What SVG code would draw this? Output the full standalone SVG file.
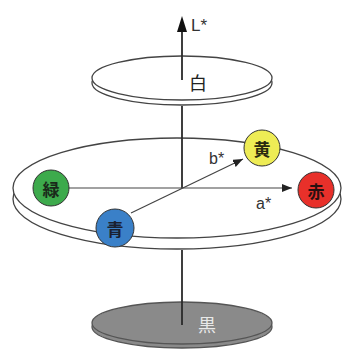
<svg xmlns="http://www.w3.org/2000/svg" width="342" height="351" viewBox="0 0 342 351">
  <defs>
    <marker id="ah" viewBox="0 0 10 8" refX="10" refY="4" markerWidth="10" markerHeight="8" markerUnits="userSpaceOnUse" orient="auto">
      <path d="M0,0 L10,4 L0,8 Z" fill="#222"/>
    </marker>
  </defs>
  <style>
    .disk { fill: #ffffff; stroke: #444; stroke-width: 1.3; }
    .dark { fill: #8a8a8a; stroke: #555; stroke-width: 1.3; }
    .ax { stroke: #2a2a2a; stroke-width: 1.8; fill: none; }
    .ln { stroke: #444; stroke-width: 1.2; fill: none; }
    .dot { stroke: #333; stroke-width: 1; }
    .cjk { font-family: "Noto Sans CJK JP", "Noto Sans CJK SC", sans-serif; text-anchor: middle; dominant-baseline: central; }
    .in { font-size: 17px; font-weight: bold; }
    .lbl { font-family: "Liberation Sans", Arial, sans-serif; fill: #333; }
  </style>
  <rect width="342" height="351" fill="#ffffff"/>

  <g id="black-disk">
    <ellipse class="dark" cx="182" cy="327" rx="90" ry="21"/>
    <ellipse class="dark" cx="182" cy="323" rx="90" ry="21"/>
  </g>

  <g id="middle-disk">
    <ellipse class="disk" cx="177" cy="199" rx="164" ry="50"/>
    <ellipse class="disk" cx="177" cy="188" rx="164" ry="50"/>
  </g>

  <g id="white-disk">
    <ellipse class="disk" cx="182" cy="83" rx="90" ry="22"/>
    <ellipse class="disk" cx="182" cy="78" rx="90" ry="22"/>
  </g>

  <g id="connectors">
    <line class="ax" x1="182" y1="250" x2="182" y2="325"/>
    <line class="ax" x1="182" y1="106" x2="182" y2="188"/>
    <line class="ax" x1="182" y1="80" x2="182" y2="28"/>
    <path d="M182,16 L187,32 L177,32 Z" fill="#111"/>
    <line class="ln" x1="68" y1="188" x2="292" y2="188" marker-end="url(#ah)"/>
    <line class="ln" x1="131" y1="213" x2="243" y2="159" marker-end="url(#ah)"/>
  </g>

  <g id="labels">
    <text class="lbl" x="191" y="31" font-size="17">L*</text>
    <text class="lbl" x="209" y="164" font-size="16">b*</text>
    <text class="lbl" x="256" y="209" font-size="16">a*</text>
  </g>

  <g id="white">
    <text class="cjk" x="198" y="82" font-size="18" fill="#222">白</text>
  </g>
  <g id="black">
    <text class="cjk" x="207" y="324" font-size="18" fill="#e8e8e8">黒</text>
  </g>
  <g id="green">
    <circle class="dot" cx="51" cy="188" r="18" fill="#3daa4c"/>
    <text class="cjk in" x="51" y="188" fill="#1a2a1a">緑</text>
  </g>
  <g id="blue">
    <circle class="dot" cx="115" cy="228" r="19" fill="#3a80c8"/>
    <text class="cjk in" x="115" y="228" fill="#1a2030">青</text>
  </g>
  <g id="yellow">
    <circle class="dot" cx="262" cy="148" r="18" fill="#eeec55"/>
    <text class="cjk in" x="262" y="148" fill="#2a2a10">黄</text>
  </g>
  <g id="red">
    <circle class="dot" cx="316" cy="190" r="18" fill="#e8302a"/>
    <text class="cjk in" x="316" y="190" fill="#2a1010">赤</text>
  </g>
</svg>
